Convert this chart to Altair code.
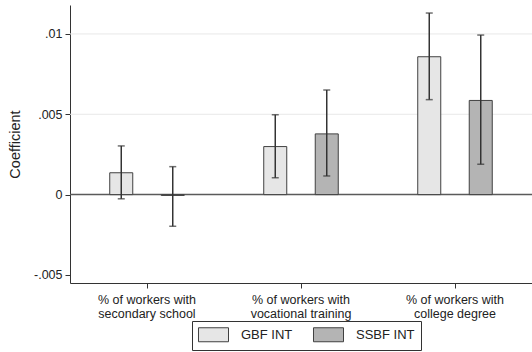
import altair as alt
import pandas as pd

categories = ["% of workers with\nsecondary school",
              "% of workers with\nvocational training",
              "% of workers with\ncollege degree"]
series = ["GBF INT", "SSBF INT"]
gbf_coef = [0.00136, 0.00299, 0.00858]
gbf_lo = [-0.00026, 0.00105, 0.00591]
gbf_hi = [0.00303, 0.00497, 0.0113]
ssbf_coef = [-0.00005, 0.00378, 0.00586]
ssbf_lo = [-0.00197, 0.00116, 0.00189]
ssbf_hi = [0.00174, 0.00651, 0.00993]
y_ticks = [-0.005, 0, 0.005, 0.01]
grid_vals = [0.005, 0.01]

rows = []
for i, c in enumerate(categories):
    rows.append({"cat": c, "series": series[0], "coef": gbf_coef[i], "lo": gbf_lo[i], "hi": gbf_hi[i]})
    rows.append({"cat": c, "series": series[1], "coef": ssbf_coef[i], "lo": ssbf_lo[i], "hi": ssbf_hi[i]})
df = pd.DataFrame(rows)

FONT = "Liberation Sans"
ydom = [-0.0055, 0.0118]

x = alt.X("cat:N", sort=categories, title=None,
          scale=alt.Scale(paddingInner=0, paddingOuter=0),
          axis=alt.Axis(labelAngle=0, labelExpr="split(datum.label, '\\n')",
                        labelFont=FONT, labelFontSize=12.5, labelColor="#222",
                        labelLineHeight=14, labelPadding=5, tickSize=5,
                        tickColor="#333", domainColor="#333", grid=False))
xo = alt.XOffset("series:N", sort=series,
                 scale=alt.Scale(paddingInner=0.553, paddingOuter=0.772))
yscale = alt.Scale(domain=ydom, nice=False, zero=False)

base = alt.Chart(df)

grid = alt.Chart(pd.DataFrame({"v": grid_vals})).mark_rule(
    color="#e8e8e8", strokeWidth=1).encode(y=alt.Y("v:Q", scale=yscale))
zero = alt.Chart(pd.DataFrame({"v": [0]})).mark_rule(
    color="#5a5a5a", strokeWidth=1.5).encode(y=alt.Y("v:Q", scale=yscale))

bars = base.mark_bar(stroke="#404040", strokeWidth=1).encode(
    x=x, xOffset=xo,
    y=alt.Y("coef:Q", scale=yscale, title="Coefficient",
            axis=alt.Axis(values=y_ticks,
                          labelExpr="datum.value == 0 ? '0' : (datum.value < 0 ? '-' : '') + replace(format(abs(datum.value), '.3~f'), '0.', '.')",
                          labelFont=FONT, labelFontSize=12.5, labelColor="#222",
                          titleFont=FONT, titleFontSize=14.5, titleFontWeight="normal",
                          titleColor="#222", titlePadding=11,
                          tickSize=5, tickColor="#333", domainColor="#333",
                          labelPadding=3, grid=False)),
    y2=alt.Y2(datum=0),
    color=alt.Color("series:N", scale=alt.Scale(domain=series, range=["#e6e6e6", "#b4b4b4"]),
                    legend=alt.Legend(title=None, orient="none", legendX=122, legendY=316,
                                      direction="horizontal",
                                      symbolType="M-2.143,-1H2.143V1H-2.143Z", symbolSize=196,
                                      symbolOffset=8,
                                      symbolStrokeColor="#404040", symbolStrokeWidth=1,
                                      labelFont=FONT, labelFontSize=13, labelColor="#222",
                                      labelOffset=20, columnPadding=18,
                                      strokeColor="#333", padding=6)),
)

err = base.mark_rule(color="#333", strokeWidth=1.5).encode(
    x=x, xOffset=xo, y=alt.Y("lo:Q", scale=yscale), y2="hi:Q")
cap_hi = base.mark_tick(color="#333", thickness=1.5, size=7).encode(
    x=x, xOffset=xo, y=alt.Y("hi:Q", scale=yscale))
cap_lo = base.mark_tick(color="#333", thickness=1.5, size=7).encode(
    x=x, xOffset=xo, y=alt.Y("lo:Q", scale=yscale))

chart = alt.layer(grid, zero, bars, err, cap_hi, cap_lo).properties(
    width=462, height=278,
    autosize=alt.AutoSizeParams(type="none"),
    padding={"left": 70, "top": 5, "right": 0, "bottom": 69},
    background="white",
).configure_view(stroke=None)

chart.save("out.html", embed_options={"renderer": "svg", "actions": False})
